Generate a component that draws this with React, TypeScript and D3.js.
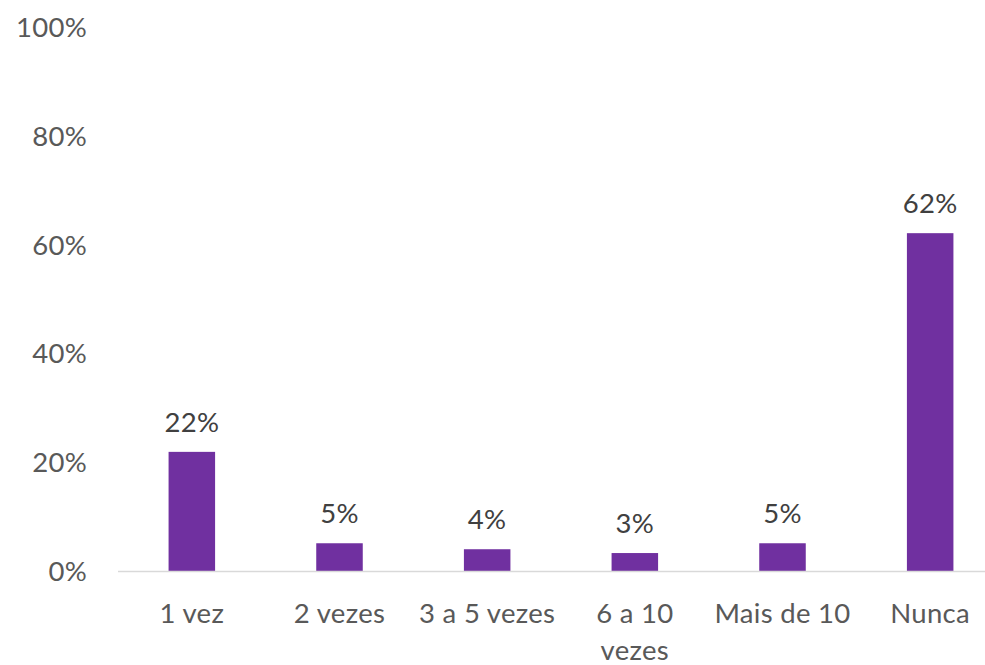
import React, { useEffect, useRef } from "react";
import * as d3 from "d3";

const categories = ["1 vez", "2 vezes", "3 a 5 vezes", "6 a 10 vezes", "Mais de 10", "Nunca"];
const values = [21.9, 5.1, 4.0, 3.3, 5.1, 62.1];
const valueLabels = ["22%", "5%", "4%", "3%", "5%", "62%"];
const yTicks = [0, 20, 40, 60, 80, 100];

const W = 985;
const H = 665;
const FONT = "Lato, 'Open Sans', sans-serif";
const FS = "27.5px";

export default function App() {
  const ref = useRef<SVGSVGElement>(null);

  useEffect(() => {
    const svg = d3.select(ref.current);
    svg.selectAll("*").remove();

    const x = d3.scaleBand<string>().domain(categories).range([118, 1004]).padding(0);
    const y = d3.scaleLinear().domain([0, 100]).range([571, 27]);
    const barW = x.bandwidth() * 0.315;

    // y labels
    svg.append("g")
      .selectAll("text")
      .data(yTicks)
      .join("text")
      .attr("x", 87)
      .attr("y", (d) => y(d))
      .attr("dy", "0.36em")
      .attr("text-anchor", "end")
      .style("font-family", FONT)
      .style("font-size", FS)
      .style("letter-spacing", "0.3px")
      .style("fill", "#595959")
      .text((d) => d + "%");

    // bars
    svg.append("g")
      .selectAll("rect")
      .data(values)
      .join("rect")
      .attr("x", (d, i) => x(categories[i])! + x.bandwidth() / 2 - barW / 2)
      .attr("y", (d) => y(d))
      .attr("width", barW)
      .attr("height", (d) => y(0) - y(d))
      .style("fill", "#7030A0");

    // axis line
    svg.append("line")
      .attr("x1", 118)
      .attr("x2", W)
      .attr("y1", y(0) + 0.5)
      .attr("y2", y(0) + 0.5)
      .style("stroke", "#D9D9D9")
      .style("stroke-width", 1.5);

    // data labels
    svg.append("g")
      .selectAll("text")
      .data(values)
      .join("text")
      .attr("x", (d, i) => x(categories[i])! + x.bandwidth() / 2)
      .attr("y", (d) => y(d) - 20)
      .attr("text-anchor", "middle")
      .style("font-family", FONT)
      .style("font-size", FS)
      .style("letter-spacing", "0.3px")
      .style("fill", "#404040")
      .text((d, i) => valueLabels[i]);

    // category labels, wrapped to band width
    const labels = svg.append("g")
      .selectAll("text")
      .data(categories)
      .join("text")
      .attr("x", (d) => x(d)! + x.bandwidth() / 2)
      .attr("y", 623)
      .attr("text-anchor", "middle")
      .style("font-family", FONT)
      .style("font-size", FS)
      .style("letter-spacing", "0.3px")
      .style("fill", "#595959");

    labels.each(function (d) {
      const t = d3.select(this);
      const cx = x(d)! + x.bandwidth() / 2;
      const words = d.split(" ");
      let line: string[] = [];
      let tspan = t.append("tspan").attr("x", cx).attr("dy", 0);
      for (const w of words) {
        line.push(w);
        tspan.text(line.join(" "));
        if ((tspan.node() as SVGTSpanElement).getComputedTextLength() > x.bandwidth() && line.length > 1) {
          line.pop();
          tspan.text(line.join(" "));
          line = [w];
          tspan = t.append("tspan").attr("x", cx).attr("dy", 37).text(w);
        }
      }
    });
  }, []);

  return <svg ref={ref} width={W} height={H} style={{ position: "absolute", left: 0, top: 0, background: "#fff" }} />;
}
